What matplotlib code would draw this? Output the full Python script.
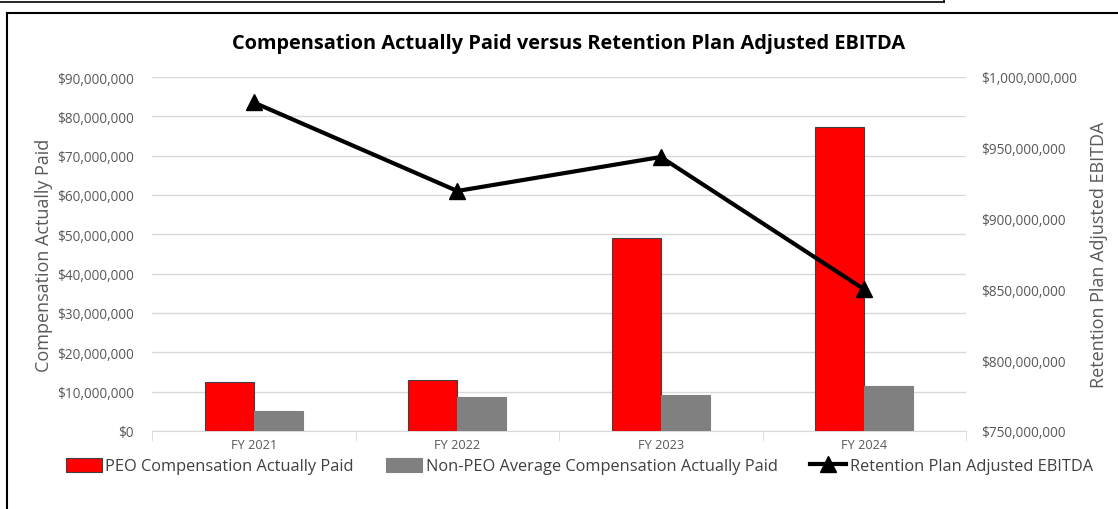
import matplotlib
matplotlib.use("Agg")
import matplotlib.pyplot as plt
from matplotlib.lines import Line2D
from matplotlib.ticker import FuncFormatter, MultipleLocator, FixedLocator
import numpy as np

categories = ["FY 2021", "FY 2022", "FY 2023", "FY 2024"]
peo_cap = [12400000, 13050000, 49100000, 77200000]
non_peo_cap = [5200000, 8700000, 9200000, 11500000]
ebitda = [982000000, 919500000, 943500000, 850000000]

plt.rcParams['font.family'] = ['Open Sans', 'DejaVu Sans']

fig = plt.figure(figsize=(11.18, 5.10), dpi=100)
ax = fig.add_axes([152/1118, 1-432/510, (966-152)/1118, (432-78)/510])
ax2 = ax.twinx()

x = np.arange(len(categories))
w = 0.24
ax.bar(x - w/2, peo_cap, w, color="#ff0000", edgecolor="#404040", linewidth=0.8, zorder=3,
       label="PEO Compensation Actually Paid")
ax.bar(x + w/2, non_peo_cap, w, color="#808080", edgecolor="#808080", linewidth=0.8, zorder=3,
       label="Non-PEO Average Compensation Actually Paid")
ax2.plot(x, ebitda, color="black", linewidth=3, marker="^", markersize=11, zorder=4,
         label="Retention Plan Adjusted EBITDA")

ax.set_xlim(-0.5, 3.5)
ax.set_ylim(0, 90000000)
ax.yaxis.set_major_locator(MultipleLocator(10000000))
ax.yaxis.set_major_formatter(FuncFormatter(lambda v, p: "${:,.0f}".format(v)))
ax2.set_ylim(750000000, 1000000000)
ax2.yaxis.set_major_locator(MultipleLocator(50000000))
ax2.yaxis.set_major_formatter(FuncFormatter(lambda v, p: "${:,.0f}".format(v)))

ax.grid(axis="y", color="#d9d9d9", linewidth=1, zorder=0)
ax.set_axisbelow(True)
for a in (ax, ax2):
    for s in ("top", "left", "right"):
        a.spines[s].set_visible(False)
    a.spines["bottom"].set_color("#d9d9d9")
ax2.spines["bottom"].set_visible(False)

ax.set_xticks(x)
ax.set_xticklabels(categories)
ax.tick_params(axis="x", length=0, labelsize=9.2, labelcolor="#595959", pad=5)
ax.xaxis.set_minor_locator(FixedLocator([-0.5, 0.5, 1.5, 2.5, 3.5]))
ax.tick_params(axis="x", which="minor", length=7, color="#d9d9d9", direction="out")
ax.tick_params(axis="y", length=0, labelsize=9.8, labelcolor="#595959", pad=13)
ax2.tick_params(axis="y", length=0, labelsize=9.8, labelcolor="#595959", pad=11)

ax.set_ylabel("Compensation Actually Paid", fontsize=13, color="#595959")
ax.yaxis.set_label_coords((53-152)/814, 0.5)
ax2.set_ylabel("Retention Plan Adjusted EBITDA", fontsize=13, color="#595959")
ax2.yaxis.set_label_coords((1090-152)/814, 0.5)

fig.text(0.509, 1-44/510, "Compensation Actually Paid versus Retention Plan Adjusted EBITDA",
         ha="center", va="center", fontsize=14.4, fontweight="bold", color="black")

h1, l1 = ax.get_legend_handles_labels()
h2, l2 = ax2.get_legend_handles_labels()
fig.legend(h1 + h2, l1 + l2, loc="center", bbox_to_anchor=(0.518, 1-467/510), ncol=3,
           frameon=False, fontsize=11.8, labelcolor="#404040", handlelength=2.2,
           handletextpad=0.2, columnspacing=2.0, handleheight=1.0)

# outer frame lines
fig.add_artist(Line2D([7/1118, 7/1118], [0, 1-14/510], transform=fig.transFigure, color="black", linewidth=1.5))
fig.add_artist(Line2D([7/1118, 1], [1-14/510, 1-14/510], transform=fig.transFigure, color="black", linewidth=1.5))
fig.add_artist(Line2D([0, 944/1118], [1-3/510, 1-3/510], transform=fig.transFigure, color="black", linewidth=1.2))
fig.add_artist(Line2D([944/1118, 944/1118], [1-3/510, 1], transform=fig.transFigure, color="black", linewidth=1.2))

fig.savefig("out.png", dpi=100)
